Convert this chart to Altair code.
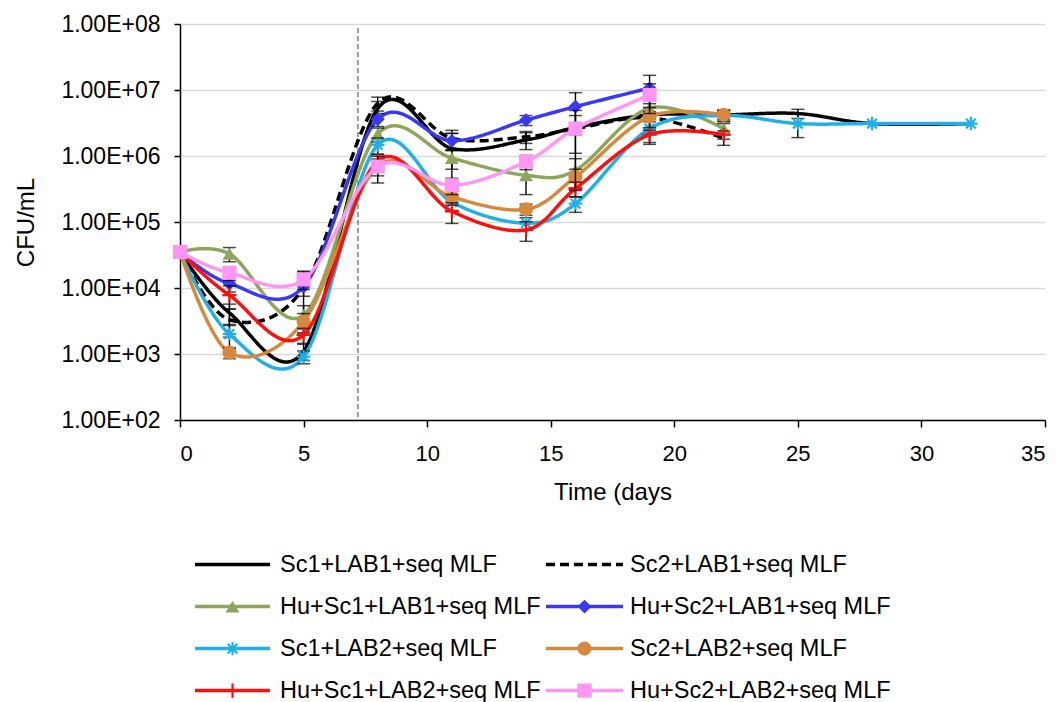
import altair as alt
import pandas as pd

# ---------------- data ----------------
days = [0, 2, 5, 8, 11, 14, 16, 19, 22, 25, 28, 32]

series_names = [
    "Sc1+LAB1+seq MLF",
    "Sc2+LAB1+seq MLF",
    "Hu+Sc1+LAB1+seq MLF",
    "Hu+Sc2+LAB1+seq MLF",
    "Sc1+LAB2+seq MLF",
    "Sc2+LAB2+seq MLF",
    "Hu+Sc1+LAB2+seq MLF",
    "Hu+Sc2+LAB2+seq MLF",
]

sc1_lab1 = [3.5e4, 4.2e3, 1.1e3, 5.2e6, 1.3e6, 1.75e6, 2.7e6, 4.2e6, 4.2e6, 4.4e6, 3.1e6, 3.1e6]
sc2_lab1 = [3.5e4, 3.3e3, 1.0e4, 6.3e6, 1.85e6, 1.95e6, 2.6e6, 3.8e6, 1.85e6]
hu_sc1_lab1 = [3.5e4, 3.3e4, 3.9e3, 2.15e6, 9.3e5, 5.1e5, 6.1e5, 5.3e6, 2.6e6]
hu_sc2_lab1 = [3.5e4, 1.17e4, 1.05e4, 3.6e6, 1.7e6, 3.5e6, 5.6e6, 1.07e7]
sc1_lab2 = [3.5e4, 2.0e3, 9.1e2, 1.47e6, 2.0e5, 9.6e4, 1.9e5, 2.6e6, 4.1e6, 3.1e6, 3.1e6, 3.1e6]
sc2_lab2 = [3.5e4, 1.05e3, 3.1e3, 7.0e5, 2.4e5, 1.56e5, 4.8e5, 3.95e6, 4.2e6]
hu_sc1_lab2 = [3.5e4, 7.8e3, 1.95e3, 8.5e5, 1.45e5, 7.6e4, 3.2e5, 2.1e6, 2.1e6]
hu_sc2_lab2 = [3.5e4, 1.7e4, 1.35e4, 6.9e5, 3.6e5, 8.2e5, 2.6e6, 8.4e6]

# standard deviations (error bars)
sd_sc1_lab1 = [0, 1.5e3, 3e2, 1.5e6, 9e5, 5e5, 5e5, 2e6, 8e5, 7e5, 0, 0]
sd_sc2_lab1 = [0, 1.5e3, 8e3, 1.5e6, 6e5, 4e5, 1.5e6, 1.5e6, 4e5]
sd_hu_sc1_lab1 = [0, 8e3, 1.5e3, 5e5, 3e5, 2.5e5, 3e5, 2e6, 5e5]
sd_hu_sc2_lab1 = [0, 3e3, 3e3, 8e5, 5e5, 6e5, 3.5e6, 6e6]
sd_sc1_lab2 = [0, 8e2, 2e2, 4e5, 5e4, 2e4, 5e4, 1e6, 8e5, 1.2e6, 0, 0]
sd_sc2_lab2 = [0, 2e2, 1e3, 2e5, 6e4, 3e4, 1.5e5, 1.5e6, 6e5]
sd_hu_sc1_lab2 = [0, 3e3, 5e2, 2e5, 5e4, 2.5e4, 8e4, 6e5, 3e5]
sd_hu_sc2_lab2 = [0, 4e3, 4e3, 3e5, 1e5, 2e5, 2.3e6, 4e6]

inoculation_day = [7.2]
y_ticks = [1e2, 1e3, 1e4, 1e5, 1e6, 1e7, 1e8]
x_ticks = [0, 5, 10, 15, 20, 25, 30, 35]

values = [sc1_lab1, sc2_lab1, hu_sc1_lab1, hu_sc2_lab1, sc1_lab2, sc2_lab2, hu_sc1_lab2, hu_sc2_lab2]
sds = [sd_sc1_lab1, sd_sc2_lab1, sd_hu_sc1_lab1, sd_hu_sc2_lab1, sd_sc1_lab2, sd_sc2_lab2,
       sd_hu_sc1_lab2, sd_hu_sc2_lab2]

# legend layout (2 columns x 4 rows)
legend_col = [0, 1, 0, 1, 0, 1, 0, 1]
legend_row = [0, 0, 1, 1, 2, 2, 3, 3]

# ---------------- styles ----------------
FONT = "Liberation Sans"
colors = ["#000000", "#000000", "#8DA65A", "#3838F5", "#1FB0EA", "#D6883F", "#FF0E0E", "#FF96F4"]
dashes = [[1, 0], [9, 5], [1, 0], [1, 0], [1, 0], [1, 0], [1, 0], [1, 0]]
ASTERISK = "M-1,0H1M0,-1V1M-0.72,-0.72L0.72,0.72M-0.72,0.72L0.72,-0.72"
PLUS = "M-1,0H1M0,-1V1"
shapes = [None, None, "triangle-up", "diamond", ASTERISK, "circle", PLUS, "square"]
filled = [False, False, True, True, False, True, False, True]
msize = [0, 0, 190, 190, 180, 200, 200, 200]

col_line_x0 = [15, 366]
col_line_x1 = [90, 443]
col_text_x = [100, 450]

# ---------------- tables ----------------
rows = []
for name, vals, sd in zip(series_names, values, sds):
    for d, v, s in zip(days, vals, sd):
        rows.append({"series": name, "day": d, "cfu": v, "sd": s,
                     "lo": max(v - s, 1e2), "hi": v + s})
df = pd.DataFrame(rows)

leg = pd.DataFrame({
    "series": series_names,
    "row": legend_row,
    "x0": [col_line_x0[c] for c in legend_col],
    "x1": [col_line_x1[c] for c in legend_col],
    "xm": [(col_line_x0[c] + col_line_x1[c]) / 2 for c in legend_col],
    "tx": [col_text_x[c] for c in legend_col],
})

# ---------------- main chart ----------------
x_enc = alt.X("day:Q", scale=alt.Scale(domain=[0, 35], nice=False),
              axis=alt.Axis(values=x_ticks, grid=False, title="Time (days",
                            domainColor="black", domainWidth=1.5, tickColor="black",
                            tickWidth=1.5, tickSize=7, labelFontSize=22, labelPadding=16,
                            labelColor="black", titleColor="black", titleFontSize=24,
                            titleFontWeight="normal", titlePadding=16,
                            labelFont=FONT, titleFont=FONT))
y_scale = alt.Scale(type="log", domain=[1e2, 1e8], nice=False)
y_axis = alt.Axis(values=y_ticks, grid=True, gridColor="#D9D9D9", gridWidth=1.5,
                  labelExpr="'1.00E+0' + format(log(datum.value) / LN10, '.0f')",
                  domainColor="black", domainWidth=1.5, tickColor="black", tickWidth=1.5,
                  tickSize=6, labelFontSize=23, labelPadding=14, labelColor="black",
                  title="CFU/mL", titleColor="black", titleFontSize=24,
                  titleFontWeight="normal", titlePadding=22, labelFont=FONT, titleFont=FONT)

base = alt.Chart(df)

vline = alt.Chart(pd.DataFrame({"day": inoculation_day})).mark_rule(
    color="#808080", strokeWidth=1.5, strokeDash=[5, 3]
).encode(x=x_enc, y=alt.value(4), y2=alt.value(396))

layers = [vline]
for i, name in enumerate(series_names):
    sub = base.transform_filter(alt.datum.series == name)
    layers.append(sub.mark_line(interpolate="cardinal", color=colors[i], strokeWidth=3.5,
                                strokeDash=dashes[i]).encode(
        x=x_enc, y=alt.Y("cfu:Q", scale=y_scale, axis=y_axis)))
    eb = sub.transform_filter(alt.datum.sd > 0)
    layers.append(eb.mark_rule(color="black", strokeWidth=1.4, clip=True).encode(
        x=x_enc, y=alt.Y("lo:Q", scale=y_scale, axis=y_axis), y2="hi:Q"))
    layers.append(eb.mark_tick(orient="horizontal", size=13, thickness=1.5, color="black").encode(
        x=x_enc, y=alt.Y("lo:Q", scale=y_scale, axis=y_axis)))
    layers.append(eb.mark_tick(orient="horizontal", size=13, thickness=1.5, color="black").encode(
        x=x_enc, y=alt.Y("hi:Q", scale=y_scale, axis=y_axis)))
    if shapes[i] is not None:
        if filled[i]:
            mk = sub.mark_point(shape=shapes[i], filled=True, size=msize[i], color=colors[i],
                                opacity=1)
        else:
            mk = sub.mark_point(shape=shapes[i], filled=False, size=msize[i], color=colors[i],
                                strokeWidth=2.2, opacity=1)
        layers.append(mk.encode(x=x_enc, y=alt.Y("cfu:Q", scale=y_scale, axis=y_axis)))

main = alt.layer(*layers).properties(width=865, height=396)

# ---------------- legend panel ----------------
lx = alt.Scale(domain=[0, 865], nice=False, zero=False)
ly = alt.Scale(domain=[-0.3, 3.3], reverse=True, nice=False, zero=False)
lbase = alt.Chart(leg)
leg_layers = []
for i, name in enumerate(series_names):
    sub = lbase.transform_filter(alt.datum.series == name)
    leg_layers.append(sub.mark_rule(color=colors[i], strokeWidth=3.5, strokeDash=dashes[i]).encode(
        x=alt.X("x0:Q", scale=lx, axis=None), x2="x1:Q",
        y=alt.Y("row:Q", scale=ly, axis=None)))
    if shapes[i] is not None:
        if filled[i]:
            mk = sub.mark_point(shape=shapes[i], filled=True, size=msize[i], color=colors[i],
                                opacity=1)
        else:
            mk = sub.mark_point(shape=shapes[i], filled=False, size=msize[i], color=colors[i],
                                strokeWidth=2.2, opacity=1)
        leg_layers.append(mk.encode(x=alt.X("xm:Q", scale=lx, axis=None),
                                    y=alt.Y("row:Q", scale=ly, axis=None)))
leg_layers.append(lbase.mark_text(align="left", baseline="middle", fontSize=23.5, font=FONT,
                                  color="black").encode(
    x=alt.X("tx:Q", scale=lx, axis=None), y=alt.Y("row:Q", scale=ly, axis=None),
    text="series:N"))
legend_panel = alt.layer(*leg_layers).properties(width=865, height=151.2)

chart = alt.vconcat(main, legend_panel, spacing=48).resolve_scale(
    x="independent", y="independent"
).properties(
    padding={"left": 14, "top": 13, "right": 2, "bottom": 0},
    background="white",
).configure(font=FONT).configure_view(stroke=None)

chart.save("out.html", embed_options={"renderer": "svg", "actions": False})
